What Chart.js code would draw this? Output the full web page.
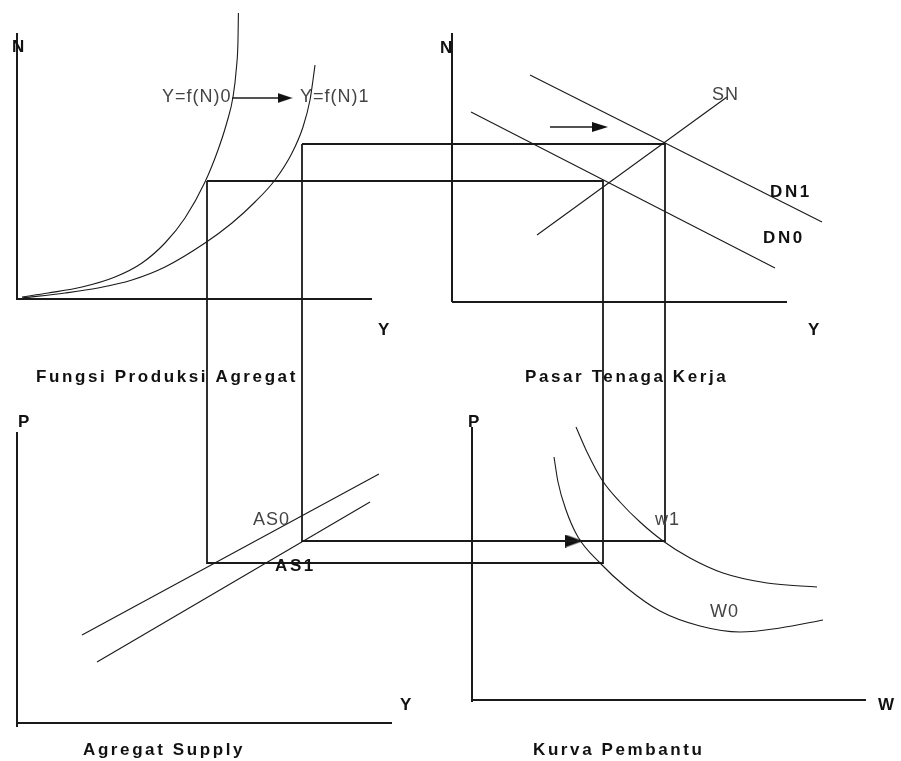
<!DOCTYPE html>
<html>
<head>
<meta charset="utf-8">
<title>Fungsi Produksi Agregat - Pasar Tenaga Kerja</title>
<script src="https://cdn.jsdelivr.net/npm/chart.js@4/dist/chart.umd.min.js"></script>
<style>
  html, body { margin: 0; padding: 0; background: #fff; }
  #wrap { width: 901px; height: 761px; }
</style>
</head>
<body>
<div id="wrap"><canvas id="diagram" width="901" height="761"></canvas></div>
<script>
// diagram values, in the chart's own x / y units (y runs downward)
const prodCurve0 = [[22, 297], [48, 293], [82, 287], [115, 277], [142, 263], [165, 243], [185, 218], [205, 182], [218, 150], [227, 122], [233, 97], [236.5, 67], [238, 40], [238.4, 13]];
const prodCurve1 = [[22, 298], [65, 293], [98, 288], [132, 280], [165, 267], [205, 243], [232, 223], [255, 202], [275, 180], [292, 153], [303, 127], [310, 100], [313, 80], [315, 65]];
const demandDN1 = [[530, 75], [822, 222]];
const demandDN0 = [[471, 112], [775, 268]];
const supplySN = [[537, 235], [727, 97]];
const supplyAS0 = [[82, 635], [379, 474]];
const supplyAS1 = [[97, 662], [370, 502]];
const wageW1 = [[576, 427], [587, 452], [602, 480], [620, 502], [640, 522], [663, 541], [690, 558], [723, 573], [767, 583], [817, 587]];
const wageW0 = [[554, 457], [558, 482], [566, 510], [578, 537], [600, 563], [627, 588], [660, 611], [700, 626], [740, 632], [780, 628], [823, 620]];

const rectOuter = [[302, 144], [665, 144], [665, 541], [302, 541], [302, 144]];
const rectInner = [[207, 181], [603, 181], [603, 563], [207, 563], [207, 181]];

const axes = [
    [[17, 33], [17, 300]], [[17, 299], [372, 299]],
    [[452, 33], [452, 302]], [[452, 302], [787, 302]],
    [[17, 432], [17, 727]], [[17, 723], [392, 723]],
    [[472, 427], [472, 702]], [[472, 700], [866, 700]]
];

const arrowTop = [[232, 98], [285, 98]];
const arrowLabour = [[550, 127], [600, 127]];
const arrowBottom = [[560, 541], [574, 541]];

// text: [label, x, baseline y, bold]
const labels = [
    ['N', 12, 52, true], ['N', 440, 53, true],
    ['Y', 378, 335, true], ['Y', 808, 335, true],
    ['P', 18, 427, true], ['P', 468, 427, true],
    ['Y', 400, 710, true], ['W', 878, 710, true],
    ['Fungsi Produksi Agregat', 36, 382, true],
    ['Pasar Tenaga Kerja', 525, 382, true],
    ['Agregat Supply', 83, 755, true],
    ['Kurva Pembantu', 533, 755, true],
    ['DN1', 770, 197, true], ['DN0', 763, 243, true],
    ['AS1', 275, 571, true],
    ['Y=f(N)0', 162, 102, false], ['Y=f(N)1', 300, 102, false],
    ['SN', 712, 100, false], ['AS0', 253, 525, false],
    ['w1', 655, 525, false], ['W0', 710, 617, false]
];

function pts(arr) {
    return arr.map(p => ({ x: p[0], y: p[1] }));
}

function makeArrow(w, h) {
    const c = document.createElement('canvas');
    c.width = w;
    c.height = h;
    const g = c.getContext('2d');
    g.fillStyle = '#111';
    g.beginPath();
    g.moveTo(0, 0);
    g.lineTo(w, h / 2);
    g.lineTo(0, h);
    g.closePath();
    g.fill();
    return c;
}

function lineSet(arr, width, smooth) {
    const ds = {
        data: pts(arr),
        showLine: true,
        borderColor: '#1a1a1a',
        borderWidth: width,
        pointRadius: 0,
        fill: false
    };
    if (smooth) {
        ds.cubicInterpolationMode = 'monotone';
    }
    return ds;
}

function arrowSet(arr, head) {
    const ds = lineSet(arr, 1.5);
    ds.pointRadius = [0, 6];
    ds.pointStyle = head;
    return ds;
}

const datasets = [];
axes.forEach(a => datasets.push(lineSet(a, 2)));
datasets.push(lineSet(rectOuter, 1.8));
datasets.push(lineSet(rectInner, 1.8));
[prodCurve0, prodCurve1, wageW1, wageW0].forEach(c => datasets.push(lineSet(c, 1.1, true)));
[demandDN1, demandDN0, supplySN, supplyAS0, supplyAS1].forEach(l => datasets.push(lineSet(l, 1.1)));
datasets.push(arrowSet(arrowTop, makeArrow(15, 10)));
datasets.push(arrowSet(arrowLabour, makeArrow(16, 10)));
datasets.push(arrowSet(arrowBottom, makeArrow(18, 13)));

const textPlugin = {
    id: 'diagramText',
    afterDraw(chart) {
        const ctx = chart.ctx;
        const xs = chart.scales.x;
        const ys = chart.scales.y;
        ctx.save();
        ctx.textAlign = 'left';
        ctx.textBaseline = 'alphabetic';
        labels.forEach(([t, x, y, bold]) => {
            const single = t.length === 1;
            if (bold) {
                ctx.font = 'bold 17px "Liberation Sans", Arial, sans-serif';
                ctx.fillStyle = '#111';
                ctx.letterSpacing = single ? '0px' : '2.6px';
            } else {
                ctx.font = '18px "Liberation Sans", Arial, sans-serif';
                ctx.fillStyle = '#444';
                ctx.letterSpacing = '1px';
            }
            ctx.fillText(t, xs.getPixelForValue(x), ys.getPixelForValue(y));
        });
        ctx.restore();
    }
};

new Chart(document.getElementById('diagram'), {
    type: 'scatter',
    data: { datasets: datasets },
    options: {
        responsive: false,
        animation: false,
        layout: { padding: 0, autoPadding: false },
        plugins: {
            legend: { display: false },
            tooltip: { enabled: false }
        },
        scales: {
            x: { type: 'linear', min: 0, max: 901, display: false },
            y: { type: 'linear', min: 0, max: 761, reverse: true, display: false }
        }
    },
    plugins: [textPlugin]
});
</script>
</body>
</html>
